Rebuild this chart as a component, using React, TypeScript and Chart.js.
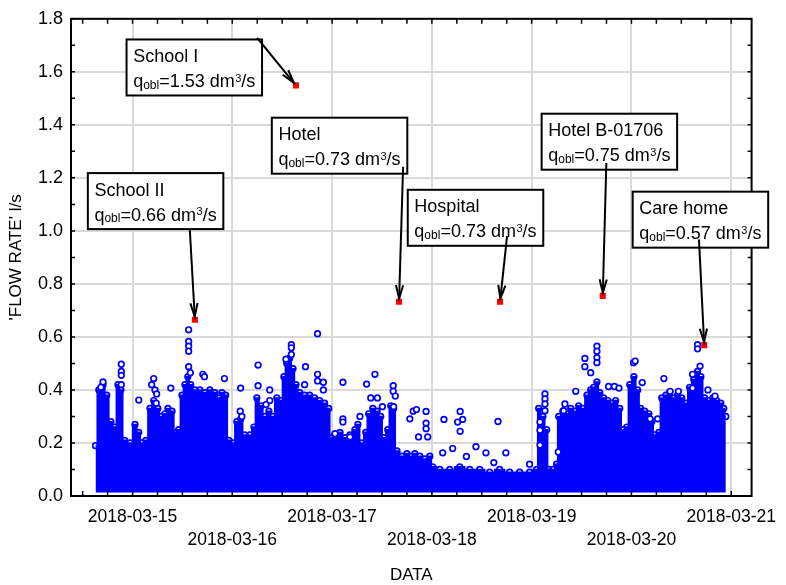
import React, { useEffect, useRef } from 'react';
import { Chart, registerables } from 'chart.js';

Chart.register(...registerables);

const FONT = "'Liberation Sans', Arial, Helvetica, sans-serif";

// x values are hours since 2018-03-15 00:00
const X_MIN_HOURS = -14.8;
const X_MAX_HOURS = 148.9;
const DAY_TICK_HOURS = [0, 24, 48, 72, 96, 120, 144];
const DAY_LABELS = ['2018-03-15', '2018-03-16', '2018-03-17', '2018-03-18', '2018-03-19', '2018-03-20', '2018-03-21'];
const Y_TICKS = [0, 0.2, 0.4, 0.6, 0.8, 1.0, 1.2, 1.4, 1.6, 1.8];

// dense body of the measurements (upper edge of the solid cloud)
const MASS_HOURS = [
  -8.9, -8.1, -7.1, -6.2, -5.2, -4.3, -3.5, -2.8, -1.9, -0.6, 0.6, 1.5, 2.2, 3.2, 4.2, 5.1, 6.1, 6.8, 7.8, 8.5,
  9.5, 10.4, 11.1, 11.9, 12.6, 13.3, 14.0, 15.0, 16.2, 17.4, 18.6, 19.8, 20.8, 21.5, 22.4, 23.2, 24.1, 25.1, 26.0, 27.0,
  28.2, 29.2, 29.9, 30.9, 31.8, 32.8, 33.7, 34.7, 35.7, 36.4, 37.1, 37.8, 38.6, 39.3, 40.2, 41.4, 42.6, 43.8, 45.0, 46.2,
  47.2, 47.7, 48.7, 49.9, 51.1, 52.3, 53.5, 54.2, 55.1, 56.1, 56.8, 57.8, 58.8, 59.7, 60.4, 61.4, 62.1, 62.8, 63.6, 64.8,
  66.0, 66.9, 67.9, 69.1, 70.3, 71.5, 72.2, 73.9, 76.3, 78.7, 81.1, 83.5, 85.9, 88.3, 90.7, 93.1, 95.5, 97.2, 97.7, 98.7,
  99.6, 100.1, 101.1, 102.0, 102.5, 103.5, 104.4, 105.4, 106.4, 107.3, 108.3, 109.3, 110.2, 110.9, 111.7, 112.4, 113.3, 114.3, 115.3, 116.2,
  117.2, 117.9, 118.9, 119.6, 120.6, 121.5, 122.2, 123.2, 124.2, 124.9, 125.6, 126.6, 127.3, 128.3, 129.2, 130.2, 131.1, 132.1, 133.1, 134.0,
  135.0, 135.9, 136.7, 137.6, 138.6, 139.6, 140.5, 141.5, 142.2, 142.7,
];
const MASS_VALUES = [
  0.19, 0.40, 0.42, 0.38, 0.28, 0.26, 0.42, 0.40, 0.21, 0.20, 0.27, 0.24, 0.20, 0.21, 0.33, 0.36, 0.33, 0.30, 0.31, 0.33,
  0.32, 0.24, 0.25, 0.38, 0.42, 0.45, 0.42, 0.40, 0.40, 0.39, 0.40, 0.39, 0.37, 0.39, 0.38, 0.21, 0.20, 0.28, 0.29, 0.23,
  0.23, 0.26, 0.37, 0.34, 0.30, 0.32, 0.30, 0.37, 0.36, 0.45, 0.50, 0.52, 0.48, 0.42, 0.39, 0.38, 0.38, 0.37, 0.36, 0.35,
  0.33, 0.22, 0.23, 0.24, 0.22, 0.23, 0.25, 0.27, 0.20, 0.24, 0.31, 0.33, 0.32, 0.30, 0.22, 0.25, 0.34, 0.33, 0.17, 0.15,
  0.16, 0.15, 0.16, 0.15, 0.14, 0.15, 0.11, 0.10, 0.10, 0.11, 0.10, 0.10, 0.09, 0.10, 0.09, 0.09, 0.09, 0.10, 0.33, 0.30,
  0.25, 0.10, 0.10, 0.12, 0.30, 0.32, 0.31, 0.33, 0.32, 0.34, 0.33, 0.38, 0.40, 0.41, 0.43, 0.39, 0.37, 0.36, 0.35, 0.36,
  0.33, 0.25, 0.26, 0.42, 0.45, 0.40, 0.33, 0.32, 0.31, 0.28, 0.23, 0.24, 0.37, 0.38, 0.39, 0.37, 0.38, 0.37, 0.35, 0.41,
  0.44, 0.47, 0.45, 0.37, 0.36, 0.37, 0.36, 0.35, 0.33, 0.30,
];

// isolated readings standing out of the cloud
const SPARSE_HOURS = [
  -7.1, -7.6, -2.7, -2.7, -2.7, -2.7, 1.5, 5.1, 4.6, 5.4, 5.8, 5.7, 9.2, 13.5, 13.5, 13.5, 13.5, 13.5, 13.9, 16.9,
  17.3, 22.1, 26.0, 25.9, 26.3, 30.2, 30.2, 33.0, 33.0, 32.1, 38.2, 38.2, 38.2, 36.9, 41.6, 41.4, 44.5, 44.5, 44.5, 45.9,
  45.9, 50.6, 50.6, 50.6, 52.3, 48.7, 54.7, 56.3, 57.3, 58.3, 58.9, 60.1, 62.7, 62.7, 63.2, 62.8, 66.7, 67.5, 68.3, 68.8,
  70.6, 70.6, 70.6, 71.0, 74.6, 74.9, 77.0, 78.2, 78.8, 78.8, 79.4, 80.3, 82.6, 85.0, 87.9, 89.8, 86.9, 95.5, 98.0, 98.0,
  98.0, 99.2, 99.2, 99.2, 99.2, 102.4, 104.0, 103.7, 106.6, 108.8, 108.8, 110.2, 111.7, 111.7, 111.7, 111.7, 114.5, 115.9, 117.0, 120.5,
  120.9, 122.6, 124.5, 126.3, 127.8, 129.3, 131.3, 134.7, 134.7, 136.5, 135.9, 135.9, 138.4, 140.1,
];
const SPARSE_VALUES = [
  0.43, 0.41, 0.497, 0.47, 0.455, 0.42, 0.362, 0.443, 0.42, 0.40, 0.385, 0.35, 0.407, 0.627, 0.583, 0.565, 0.546, 0.488, 0.465, 0.459,
  0.45, 0.443, 0.407, 0.32, 0.30, 0.494, 0.416, 0.40, 0.36, 0.345, 0.571, 0.559, 0.534, 0.516, 0.488, 0.42, 0.612, 0.459, 0.434, 0.429,
  0.40, 0.429, 0.291, 0.279, 0.223, 0.235, 0.30, 0.422, 0.37, 0.459, 0.37, 0.337, 0.416, 0.395, 0.377, 0.337, 0.291, 0.32, 0.326, 0.223,
  0.319, 0.275, 0.254, 0.223, 0.163, 0.289, 0.179, 0.279, 0.319, 0.244, 0.289, 0.149, 0.186, 0.163, 0.281, 0.163, 0.126, 0.12, 0.279, 0.248,
  0.192, 0.385, 0.366, 0.347, 0.322, 0.166, 0.347, 0.322, 0.395, 0.519, 0.488, 0.465, 0.565, 0.546, 0.522, 0.503, 0.413, 0.413, 0.407, 0.503,
  0.509, 0.428, 0.291, 0.291, 0.443, 0.395, 0.395, 0.459, 0.407, 0.49, 0.571, 0.555, 0.40, 0.377,
];

// design peak flows (red markers)
const PEAK_NAMES = ['School II', 'School I', 'Hotel', 'Hospital', 'Hotel B-01706', 'Care home'];
const PEAK_QOBL = ['0.66', '1.53', '0.73', '0.73', '0.75', '0.57'];
const PEAK_HOURS = [15.0, 39.3, 64.1, 88.4, 113.1, 137.5];
const PEAK_VALUES = [0.665, 1.549, 0.733, 0.733, 0.755, 0.569];

// label boxes: top-left corner in data units, arrow tail offset in px from that corner
const BOX_HOURS = [-10.75, -1.44, 33.5, 66.2, 98.4, 120.3];
const BOX_VALUES = [1.218, 1.722, 1.427, 1.155, 1.442, 1.148];
const BOX_TAIL = [[102, 57], [130.6, -1.7], [131.3, 49], [99.3, 46.3], [64.7, 49.3], [66.3, 47.7]];
const BOX_W = 135.5;
const BOX_H = 56;

const BLUE = '#0000ff';

const decorPlugin = {
  id: 'decor',
  afterDatasetsDraw(chart: any) {
    const { ctx, chartArea: a, scales } = chart;
    const x = scales.x;
    const y = scales.y;
    ctx.save();
    // inward tick marks on all four sides
    ctx.strokeStyle = '#000';
    ctx.lineWidth = 1.5;
    ctx.beginPath();
    for (let h = -12; h <= X_MAX_HOURS; h += 6) {
      if (h < X_MIN_HOURS) continue;
      const px = x.getPixelForValue(h);
      ctx.moveTo(px, a.bottom);
      ctx.lineTo(px, a.bottom - 5);
      ctx.moveTo(px, a.top);
      ctx.lineTo(px, a.top + 5);
    }
    for (let i = 0; i <= 18; i++) {
      const py = y.getPixelForValue(i / 10);
      ctx.moveTo(a.left, py);
      ctx.lineTo(a.left + 4, py);
      ctx.moveTo(a.right, py);
      ctx.lineTo(a.right - 4, py);
    }
    ctx.stroke();
    // frame
    ctx.lineWidth = 2;
    ctx.strokeRect(a.left, a.top, a.right - a.left, a.bottom - a.top);

    // annotation boxes with arrows
    for (let i = 0; i < PEAK_NAMES.length; i++) {
      const bx = x.getPixelForValue(BOX_HOURS[i]);
      const by = y.getPixelForValue(BOX_VALUES[i]);
      const mx = x.getPixelForValue(PEAK_HOURS[i]);
      const my = y.getPixelForValue(PEAK_VALUES[i]);
      ctx.fillStyle = '#fff';
      ctx.fillRect(bx, by, BOX_W, BOX_H);
      ctx.strokeStyle = '#000';
      ctx.lineWidth = 2;
      ctx.strokeRect(bx, by, BOX_W, BOX_H);

      ctx.fillStyle = '#000';
      ctx.textBaseline = 'alphabetic';
      ctx.textAlign = 'left';
      const tx = bx + 6.6;
      ctx.font = `18px ${FONT}`;
      ctx.fillText(PEAK_NAMES[i], tx, by + 22.7);
      const y2 = by + 47.7;
      let cx = tx;
      ctx.font = `18px ${FONT}`;
      ctx.fillText('q', cx, y2);
      cx += ctx.measureText('q').width;
      ctx.font = `12px ${FONT}`;
      ctx.fillText('obl', cx, y2 + 1.5);
      cx += ctx.measureText('obl').width;
      ctx.font = `18px ${FONT}`;
      const mid = '=' + PEAK_QOBL[i] + ' dm';
      ctx.fillText(mid, cx, y2);
      cx += ctx.measureText(mid).width;
      ctx.font = `11px ${FONT}`;
      ctx.fillText('3', cx + 0.5, y2 - 5.5);
      cx += ctx.measureText('3').width + 0.5;
      ctx.font = `18px ${FONT}`;
      ctx.fillText('/s', cx, y2);

      // arrow
      const sx = bx + BOX_TAIL[i][0];
      const sy = by + BOX_TAIL[i][1];
      const dx = mx - sx;
      const dy = my - sy;
      const len = Math.sqrt(dx * dx + dy * dy);
      const ux = dx / len;
      const uy = dy / len;
      const ex = mx - ux * 3;
      const ey = my - uy * 3;
      ctx.beginPath();
      ctx.moveTo(sx, sy);
      ctx.lineTo(ex, ey);
      ctx.lineWidth = 2;
      ctx.stroke();
      const hl = 14;
      const ang = 0.26;
      const base = Math.atan2(uy, ux);
      const l1x = ex - hl * Math.cos(base - ang);
      const l1y = ey - hl * Math.sin(base - ang);
      const l2x = ex - hl * Math.cos(base + ang);
      const l2y = ey - hl * Math.sin(base + ang);
      ctx.beginPath();
      ctx.moveTo(l1x, l1y);
      ctx.lineTo(ex, ey);
      ctx.lineTo(l2x, l2y);
      ctx.stroke();
    }
    ctx.restore();
  },
};

export default function App() {
  const canvasRef = useRef<HTMLCanvasElement | null>(null);

  useEffect(() => {
    document.body.style.margin = '0';
    document.body.style.background = '#fff';
    const canvas = canvasRef.current;
    if (!canvas) return;

    const massData = MASS_HOURS.map((h, i) => ({ x: h, y: MASS_VALUES[i] }));
    const sparseData = SPARSE_HOURS.map((h, i) => ({ x: h, y: SPARSE_VALUES[i] }));
    const peakData = PEAK_HOURS.map((h, i) => ({ x: h, y: PEAK_VALUES[i] }));

    const chart = new Chart(canvas, {
      type: 'scatter',
      data: {
        datasets: [
          {
            type: 'line',
            data: massData,
            order: 3,
            showLine: true,
            stepped: 'middle',
            borderColor: BLUE,
            borderWidth: 1.5,
            backgroundColor: BLUE,
            fill: { value: 0.013 },
            tension: 0,
            pointRadius: 2.8,
            pointBorderWidth: 1.7,
            pointBorderColor: BLUE,
            pointBackgroundColor: 'rgba(0,0,0,0)',
          } as any,
          {
            data: sparseData,
            order: 2,
            pointRadius: 2.8,
            pointBorderWidth: 1.7,
            pointBorderColor: BLUE,
            pointBackgroundColor: '#ffffff',
          },
          {
            data: peakData,
            order: 1,
            pointStyle: 'rect',
            pointRadius: 4.3,
            pointBorderWidth: 0,
            pointBackgroundColor: '#ff0000',
            pointBorderColor: '#ff0000',
          },
        ],
      },
      options: {
        responsive: false,
        animation: false,
        devicePixelRatio: 1,
        layout: { padding: { top: 14, right: 34, left: 0, bottom: 0 } },
        plugins: { legend: { display: false }, tooltip: { enabled: false } },
        scales: {
          x: {
            type: 'linear',
            min: X_MIN_HOURS,
            max: X_MAX_HOURS,
            afterBuildTicks: (s: any) => {
              s.ticks = DAY_TICK_HOURS.map((v) => ({ value: v }));
            },
            afterFit: (s: any) => {
              s.height = 89;
            },
            grid: { color: '#d9d9d9', lineWidth: 2, drawTicks: false },
            border: { display: false },
            ticks: {
              autoSkip: false,
              maxRotation: 0,
              minRotation: 0,
              padding: 9,
              color: '#000',
              font: { family: FONT, size: 17.5, lineHeight: 1.34 },
              callback: (v: any) => {
                const idx = Math.round(Number(v) / 24);
                const lab = DAY_LABELS[idx] ?? '';
                return idx % 2 === 0 ? [lab] : ['', lab];
              },
            },
            title: {
              display: true,
              text: 'DATA',
              color: '#000',
              font: { family: FONT, size: 17 },
              padding: { top: 0, bottom: -1 },
            },
          },
          y: {
            type: 'linear',
            min: 0,
            max: 1.8,
            afterBuildTicks: (s: any) => {
              s.ticks = Y_TICKS.map((v) => ({ value: v }));
            },
            afterFit: (s: any) => {
              s.width = 71;
            },
            grid: { color: '#d9d9d9', lineWidth: 2, drawTicks: false },
            border: { display: false },
            ticks: {
              padding: 8,
              color: '#000',
              font: { family: FONT, size: 18 },
              callback: (v: any) => Number(v).toFixed(1),
            },
            title: {
              display: true,
              text: "'FLOW RATE' l/s",
              color: '#000',
              font: { family: FONT, size: 17 },
              padding: { top: 6, bottom: 0 },
            },
          },
        },
      } as any,
      plugins: [decorPlugin],
    });

    return () => {
      chart.destroy();
    };
  }, []);

  return (
    <div style={{ width: 786, height: 585 }}>
      <canvas ref={canvasRef} width={786} height={585} style={{ display: 'block' }} />
    </div>
  );
}
